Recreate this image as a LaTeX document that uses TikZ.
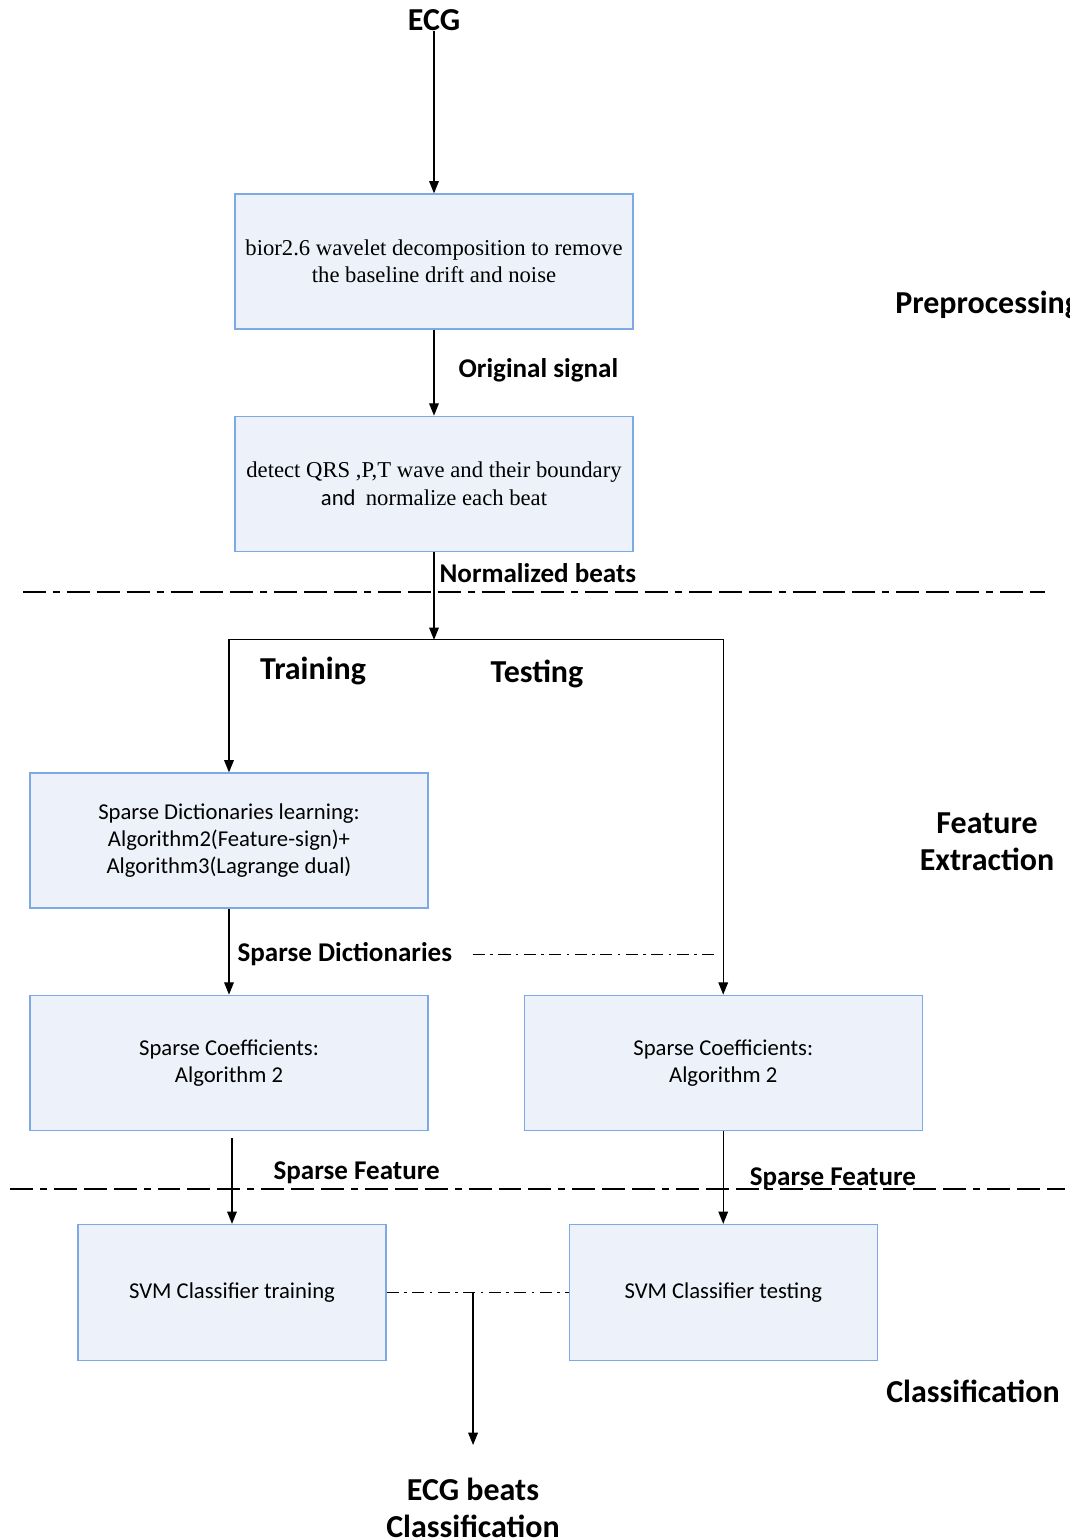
\documentclass[tikz,border=0pt]{standalone}
\usepackage{fontspec}
\setmainfont{Carlito}
\newfontfamily\timesf{Liberation Serif}
\usetikzlibrary{arrows.meta,positioning}
\definecolor{boxfill}{RGB}{237,242,250}
\definecolor{boxline}{RGB}{125,170,228}

\begin{document}
\begin{tikzpicture}[node distance=1.72cm, >={Triangle[length=7pt,width=5.5pt]}]
\useasboundingbox (0,0) rectangle (21.4,-30.8);

\tikzstyle{bx} = [rectangle, minimum width=7.96cm, minimum height=2.7cm, align=center, text centered, draw=boxline, fill=boxfill, line width=0.7pt, font=\fontsize{12.9}{15.4}\selectfont]
\tikzstyle{sbx} = [bx, minimum width=6.16cm, minimum height=2.72cm]
\tikzstyle{lb} = [font=\bfseries\fontsize{15.4}{18}\selectfont, inner sep=0pt]
\tikzstyle{sec} = [font=\bfseries\fontsize{18.2}{21}\selectfont, align=center, inner sep=0pt]
\tikzstyle{ln} = [line width=0.7pt]
\tikzstyle{sep} = [line width=0.8pt, dash pattern=on 13pt off 4pt on 4pt off 4pt on 13pt off 4pt on 13pt off 4pt]
\tikzstyle{dd} = [line width=0.7pt, dash pattern=on 7pt off 3pt on 1.5pt off 3pt]

% boxes
\node (wav) [bx] at (8.68,-5.23) {\timesf bior2.6 wavelet decomposition to remove\\\timesf the baseline drift and noise};
\node (det) [bx, below=of wav] {\timesf detect QRS ,P,T wave and their boundary\\and\ \ \timesf normalize each beat};
\coordinate[below=1.76cm of det] (split);
\node (dic) [bx] at (4.58,-16.81) {Sparse Dictionaries learning:\\Algorithm2(Feature-sign)+\\Algorithm3(Lagrange dual)};
\node (coefa) [bx, below=of dic] {Sparse Coefficients:\\Algorithm 2};
\node (coefb) [bx, right=1.9cm of coefa] {Sparse Coefficients:\\Algorithm 2};
\node (svma) [sbx, below=1.86cm of coefa, xshift=0.06cm] {SVM Classifier training};
\node (svmb) [sbx, below=1.86cm of coefb] {SVM Classifier testing};

% labels
\node (ecg) [sec] at (8.68,-0.4) {ECG};
\node (trn) [sec] at (6.26,-13.42) {Training};
\node (tst) [sec] at (10.74,-13.48) {Testing};
\node (pre) [sec, anchor=west] at (17.9,-6.1) {Preprocessing};
\node (fea) [sec] at (19.74,-16.83) {Feature\\Extraction};
\node (cls) [sec] at (19.46,-27.82) {Classification};
\node (res) [sec] at (9.46,-30.16) {ECG beats\\Classification};
\coordinate (outend) at (9.46,-28.9);

% stage separators
\draw[sep] (0.46,-11.84) -- (20.9,-11.84);
\draw[sep] (0.2,-23.78) -- (21.3,-23.78);

% connectors
\draw[ln,->] (ecg) -- (wav);
\draw[ln,->] (wav) -- node[lb, pos=0.47, anchor=west, xshift=0.48cm] {Original signal} (det);
\draw[ln,->] (det) -- node[lb, pos=0.24, anchor=west, xshift=0.1cm] {Normalized beats} (split);
\draw[ln,->] (split) -| (dic);
\draw[ln,->] (split) -| (coefb);
\draw[ln,->] (dic) -- node[lb, pos=0.53, anchor=west, xshift=0.16cm] (dict) {Sparse Dictionaries} (coefa);
\draw[dd] ([xshift=0.4cm]dict.east) -- ([xshift=-0.08cm]dict.east -| coefb.north);
\draw[ln,->] ([yshift=-0.14cm]coefa.south -| svma.north) -- node[lb, pos=0.41, anchor=west, xshift=0.82cm] {Sparse Feature} (svma);
\draw[ln,->] (coefb) -- node[lb, pos=0.52, anchor=west, xshift=0.52cm] {Sparse Feature} (svmb);
\draw[dd] (svma) -- coordinate[pos=0.475] (join) (svmb);
\draw[ln,->] (join) -- (join |- outend);
\end{tikzpicture}
\end{document}
